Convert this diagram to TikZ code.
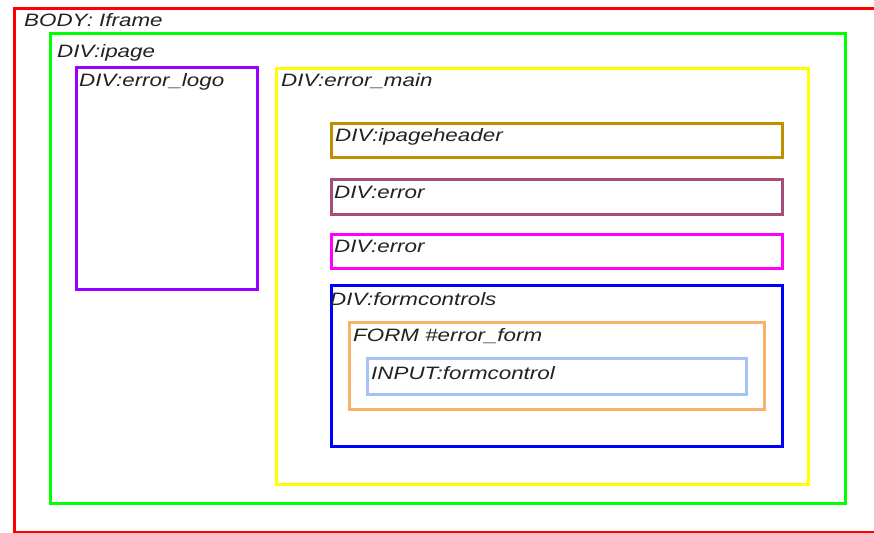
\documentclass[tikz,border=0pt]{standalone}
\usepackage{fontspec}
\setmainfont{Liberation Sans}[FakeStretch=1.25]
\definecolor{cBody}{HTML}{FF0000}
\definecolor{cPage}{HTML}{00FF00}
\definecolor{cLogo}{HTML}{9900FF}
\definecolor{cMain}{HTML}{FFFF00}
\definecolor{cHead}{HTML}{BF9000}
\definecolor{cErrA}{HTML}{A64D79}
\definecolor{cErrB}{HTML}{FF00FF}
\definecolor{cCtrl}{HTML}{0000FF}
\definecolor{cForm}{HTML}{F6B26B}
\definecolor{cInput}{HTML}{A4C2F4}
\definecolor{cText}{HTML}{222222}
\tikzset{
  boxline/.style={line width=3pt, line join=miter},
  lbl/.style={anchor=base west, inner sep=0pt, text=cText,
    font=\fontsize{17.9}{20}\selectfont\itshape}
}
\begin{document}
\begin{tikzpicture}[x=1pt,y=-1pt]
\useasboundingbox (0,0) rectangle (874,532);
\clip (0,0) rectangle (874,532);
\fill[white] (0,0) rectangle (874,532);
% boxes
\draw[boxline, draw=cBody]  (14,9)   rectangle (890,532);
\draw[boxline, draw=cPage]  (50,34)  rectangle (845,503);
\draw[boxline, draw=cLogo]  (76,68)  rectangle (257,289);
\draw[boxline, draw=cMain]  (276,69) rectangle (808,484);
\draw[boxline, draw=cHead]  (331,123) rectangle (782,157);
\draw[boxline, draw=cErrA]  (331,179) rectangle (782,214);
\draw[boxline, draw=cErrB]  (331,234) rectangle (782,268);
\draw[boxline, draw=cCtrl]  (331,285) rectangle (782,446);
\draw[boxline, draw=cForm]  (349,322) rectangle (764,409);
\draw[boxline, draw=cInput] (367,358) rectangle (746,394);
% labels
\node[lbl] (lbody)  at (24,27)   {BODY: Iframe};
\node[lbl] (lpage)  at (57,58)   {DIV:ipage};
\node[lbl] (llogo)  at (79,87)   {DIV:error\_logo};
\node[lbl] (lmain)  at (281,87)  {DIV:error\_main};
\node[lbl] (lhead)  at (335,141) {DIV:ipageheader};
\node[lbl] (lerra)  at (334,198) {DIV:error};
\node[lbl] (lerrb)  at (334,252) {DIV:error};
\node[lbl] (lctrl)  at (330,305) {DIV:formcontrols};
\node[lbl] (lform)  at (353,341) {FORM \#error\_form};
\node[lbl] (linput) at (371,379) {INPUT:formcontrol};
\end{tikzpicture}
\end{document}
